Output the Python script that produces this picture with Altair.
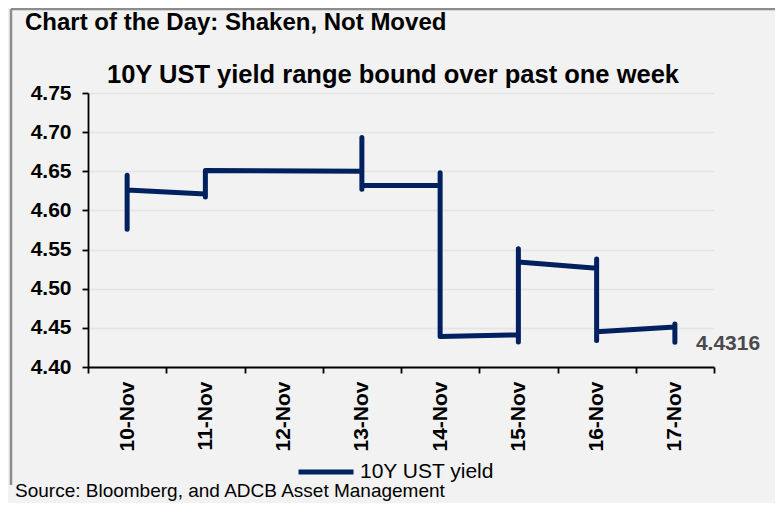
import altair as alt
import pandas as pd

# ---- data ----
days = ["10-Nov", "11-Nov", "12-Nov", "13-Nov", "14-Nov", "15-Nov", "16-Nov", "17-Nov"]
# intraday path per day (entry, extremes, exit) as seen on a date axis
day_10 = [4.620, 4.645, 4.576, 4.626]
day_11 = [4.621, 4.617, 4.651]
day_12 = []
day_13 = [4.650, 4.693, 4.627, 4.632]
day_14 = [4.632, 4.648, 4.439]
day_15 = [4.441, 4.432, 4.551, 4.534]
day_16 = [4.526, 4.538, 4.434, 4.445]
day_17 = [4.451, 4.455, 4.4316]
series_name = "10Y UST yield"
y_ticks = [4.40, 4.45, 4.50, 4.55, 4.60, 4.65, 4.70, 4.75]

title_text = "Chart of the Day: Shaken, Not Moved"
subtitle_text = "10Y UST yield range bound over past one week"
source_text = "Source: Bloomberg, and ADCB Asset Management"

# ---- table ----
rows = []
idx = 0
for d, vals in zip(days, [day_10, day_11, day_12, day_13, day_14, day_15, day_16, day_17]):
    for v in vals:
        rows.append({"day": d, "yield": v, "idx": idx, "series": series_name})
        idx += 1
df = pd.DataFrame(rows)
last = df.iloc[[-1]].copy()
last["label"] = last["yield"].map(lambda v: f"{v:.4f}")

FONT = "Liberation Sans"
NAVY = "#002060"

x_scale = alt.Scale(type="band", domain=days, paddingInner=0, paddingOuter=0)
x_axis = alt.Axis(
    title=None,
    labelAngle=-90,
    tickBand="extent",
    labelFont=FONT,
    labelFontSize=21,
    labelFontWeight="bold",
    labelColor="#000000",
    labelPadding=8,
    labelOverlap=False,
    tickSize=6,
    tickColor="#000000",
    tickWidth=1.8,
    domainColor="#000000",
    domainWidth=1.8,
    grid=False,
)
y_scale = alt.Scale(domain=[4.40, 4.75], nice=False, zero=False)
y_axis = alt.Axis(
    title=None,
    values=y_ticks,
    format=".2f",
    labelFont=FONT,
    labelFontSize=21,
    labelFontWeight="bold",
    labelColor="#000000",
    labelPadding=11,
    labelOverlap=False,
    labelBound=False,
    labelFlush=False,
    tickSize=6,
    tickColor="#000000",
    tickWidth=1.8,
    domainColor="#000000",
    domainWidth=1.8,
    grid=True,
    gridColor="#e4e4e4",
    gridWidth=1.5,
)

line = alt.Chart(df).mark_line(
    strokeWidth=5, strokeCap="round", strokeJoin="round"
).encode(
    x=alt.X("day:N", sort=days, scale=x_scale, axis=x_axis),
    y=alt.Y("yield:Q", scale=y_scale, axis=y_axis),
    order=alt.Order("idx:Q"),
    color=alt.Color(
        "series:N",
        scale=alt.Scale(range=[NAVY]),
        legend=alt.Legend(
            title=None,
            orient="none",
            legendX=208,
            legendY=349,
            padding=0,
            symbolType="stroke",
            symbolSize=3025,
            symbolStrokeWidth=5,
            labelFont=FONT,
            labelFontSize=21,
            labelColor="#000000",
            labelOffset=4,
        ),
    ),
)

end_label = alt.Chart(last).mark_text(
    align="left", baseline="middle", dx=21, dy=2,
    font=FONT, fontSize=21, fontWeight="bold", color="#4a4a4a",
).encode(
    x=alt.X("day:N", sort=days, scale=x_scale, axis=x_axis),
    y=alt.Y("yield:Q", scale=y_scale, axis=y_axis),
    text="label:N",
)

txt_df = pd.DataFrame({"t": [title_text], "s": [subtitle_text], "src": [source_text]})

title = alt.Chart(txt_df).mark_text(
    align="left", baseline="alphabetic", font=FONT, fontSize=24, fontWeight="bold", color="#000000"
).encode(x=alt.value(-63), y=alt.value(-63), text="t:N")

subtitle = alt.Chart(txt_df).mark_text(
    align="center", baseline="alphabetic", font=FONT, fontSize=25.5, fontWeight="bold", color="#000000"
).encode(x=alt.value(305), y=alt.value(-10), text="s:N")

source = alt.Chart(txt_df).mark_text(
    align="left", baseline="alphabetic", font=FONT, fontSize=19, color="#000000"
).encode(x=alt.value(-73), y=alt.value(404), text="src:N")

border_top = alt.Chart(txt_df).mark_rule(color="#8c8c8c", strokeWidth=2.5).encode(
    x=alt.value(-77), x2=alt.value(700), y=alt.value(-84)
)
border_left = alt.Chart(txt_df).mark_rule(color="#8c8c8c", strokeWidth=2.5).encode(
    x=alt.value(-77), y=alt.value(-84), y2=alt.value(392)
)

chart = alt.layer(
    border_top, border_left, line, end_label, title, subtitle, source
).properties(
    width=626,
    height=274,
    autosize=alt.AutoSizeParams(type="none"),
    padding={"left": 80, "top": 85, "right": 61, "bottom": 136},
).configure(
    background="#f2f2f2",
    font=FONT,
).configure_view(stroke=None)

chart.save("out.html", embed_options={"renderer": "svg", "actions": False})
